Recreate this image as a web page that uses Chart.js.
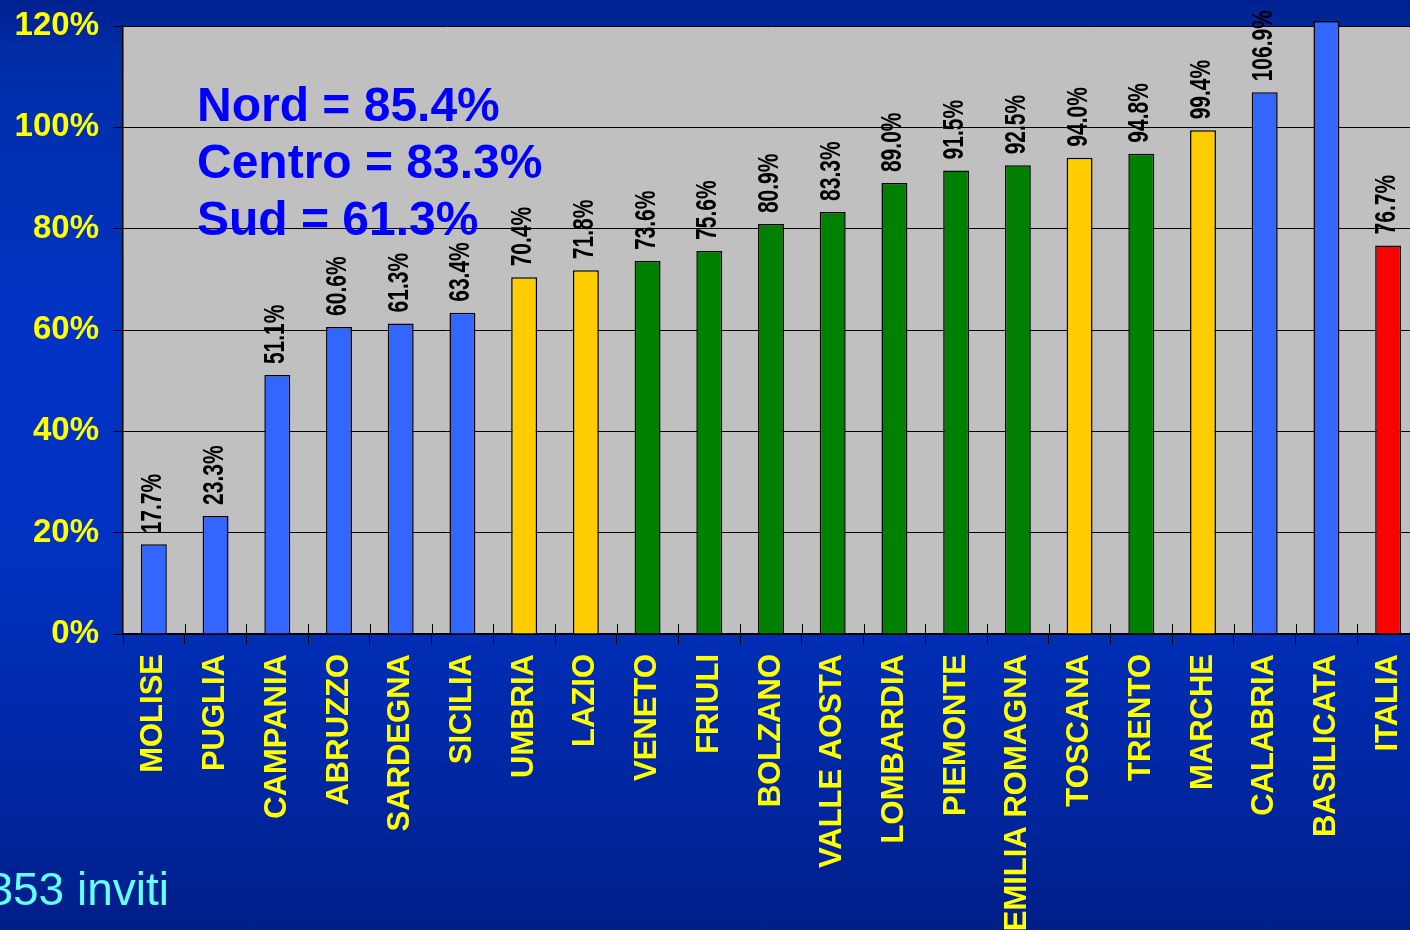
<!DOCTYPE html>
<html>
<head>
<meta charset="utf-8">
<script src="https://cdn.jsdelivr.net/npm/chart.js@4.4.1/dist/chart.umd.min.js"></script>
<style>
  html, body {
    margin: 0;
    padding: 0;
    width: 1410px;
    height: 930px;
    overflow: hidden;
    background: linear-gradient(to bottom, #00208e 0%, #002ea8 6%, #0033c4 35%, #0032c0 60%, #0026a0 85%, #001e88 100%);
  }
  canvas { display: block; }
</style>
</head>
<body>
<canvas id="chart" width="1430" height="930" style="width:1430px;height:930px"></canvas>
<script>
const FONT = "'Liberation Sans', Arial, sans-serif";

const regions = [
  "MOLISE", "PUGLIA", "CAMPANIA", "ABRUZZO", "SARDEGNA", "SICILIA", "UMBRIA",
  "LAZIO", "VENETO", "FRIULI", "BOLZANO", "VALLE AOSTA", "LOMBARDIA", "PIEMONTE",
  "EMILIA ROMAGNA", "TOSCANA", "TRENTO", "MARCHE", "CALABRIA", "BASILICATA", "ITALIA"
];
const rates = [
  17.7, 23.3, 51.1, 60.6, 61.3, 63.4, 70.4,
  71.8, 73.6, 75.6, 80.9, 83.3, 89.0, 91.5,
  92.5, 94.0, 94.8, 99.4, 106.9, 121.0, 76.7
];
const areas = [
  "sud", "sud", "sud", "sud", "sud", "sud", "centro",
  "centro", "nord", "nord", "nord", "nord", "nord", "nord",
  "nord", "centro", "nord", "centro", "sud", "sud", "italia"
];
const summaryLines = ["Nord = 85.4%", "Centro = 83.3%", "Sud = 61.3%"];
const footNote = "353 inviti";
const yTicks = [0, 20, 40, 60, 80, 100, 120];

const areaColors = {
  nord: "#008000",
  centro: "#ffcc00",
  sud: "#3366ff",
  italia: "#ff0000"
};

const plotBackground = {
  id: "plotBackground",
  beforeDraw(chart) {
    const { ctx, chartArea } = chart;
    ctx.save();
    ctx.fillStyle = "#c0c0c0";
    ctx.fillRect(chartArea.left, chartArea.top, chartArea.right - chartArea.left, chartArea.bottom - chartArea.top);
    ctx.restore();
  }
};

const valueLabels = {
  id: "valueLabels",
  afterDatasetsDraw(chart) {
    const { ctx } = chart;
    const yMax = chart.scales.y.max;
    const meta = chart.getDatasetMeta(0);
    ctx.save();
    ctx.fillStyle = "#000";
    ctx.font = "bold 21px " + FONT;
    ctx.textAlign = "left";
    ctx.textBaseline = "middle";
    meta.data.forEach((bar, i) => {
      const v = rates[i];
      if (v > yMax) return;
      ctx.save();
      ctx.translate(bar.x - 1, bar.y - 11);
      ctx.rotate(-Math.PI / 2);
      ctx.scale(1, 1.38);
      ctx.fillText(v.toFixed(1) + "%", 0, 0);
      ctx.restore();
    });
    ctx.restore();
  }
};

const overlayText = {
  id: "overlayText",
  afterDraw(chart) {
    const { ctx, chartArea } = chart;
    const x = chart.scales.x;
    ctx.save();
    // inner half of the category tick marks
    ctx.strokeStyle = "#000";
    ctx.lineWidth = 1;
    for (let i = 1; i < regions.length; i++) {
      const px = Math.round((x.getPixelForValue(i - 1) + x.getPixelForValue(i)) / 2) + 0.5;
      ctx.beginPath();
      ctx.moveTo(px, chartArea.bottom - 10);
      ctx.lineTo(px, chartArea.bottom);
      ctx.stroke();
    }

    ctx.fillStyle = "#0000ff";
    ctx.font = "bold 48px " + FONT;
    ctx.textAlign = "left";
    ctx.textBaseline = "alphabetic";
    summaryLines.forEach((line, i) => {
      ctx.fillText(line, 197, 121 + i * 57);
    });

    ctx.fillStyle = "#66ffff";
    ctx.font = "46px " + FONT;
    ctx.textAlign = "right";
    ctx.fillText(footNote, 169, 905);
    ctx.restore();
  }
};

new Chart(document.getElementById("chart"), {
  type: "bar",
  data: {
    labels: regions,
    datasets: [{
      data: rates,
      backgroundColor: areas.map((a) => areaColors[a]),
      borderColor: "#000",
      borderWidth: 1.5,
      borderSkipped: "bottom",
      categoryPercentage: 1,
      barPercentage: 0.42,
      clip: false
    }]
  },
  options: {
    responsive: false,
    animation: false,
    layout: { padding: { top: 26, right: 11, left: 0, bottom: 0 } },
    plugins: {
      legend: { display: false },
      tooltip: { enabled: false }
    },
    scales: {
      x: {
        afterFit(scale) {
          scale.height = 296;
          scale.paddingLeft = 0;
          scale.paddingRight = 0;
        },
        border: { color: "#000", width: 1.5 },
        grid: { offset: true, drawOnChartArea: false, color: "#000", tickLength: 10 },
        ticks: {
          color: "#ffff00",
          font: { family: FONT, size: 31, weight: "bold" },
          minRotation: 90,
          maxRotation: 90,
          autoSkip: false,
          padding: 10
        }
      },
      y: {
        min: 0,
        max: 120,
        afterFit(scale) {
          scale.width = 123;
          scale.paddingTop = 0;
          scale.paddingBottom = 0;
        },
        afterBuildTicks(scale) { scale.ticks = yTicks.map((v) => ({ value: v })); },
        border: { color: "#000", width: 1.5 },
        grid: { color: "#000", lineWidth: 1, tickLength: 10 },
        ticks: {
          color: "#ffff00",
          font: { family: FONT, size: 33, weight: "bold" },
          padding: 14,
          callback: (v) => v + "%"
        }
      }
    }
  },
  plugins: [plotBackground, valueLabels, overlayText]
});
</script>
</body>
</html>
